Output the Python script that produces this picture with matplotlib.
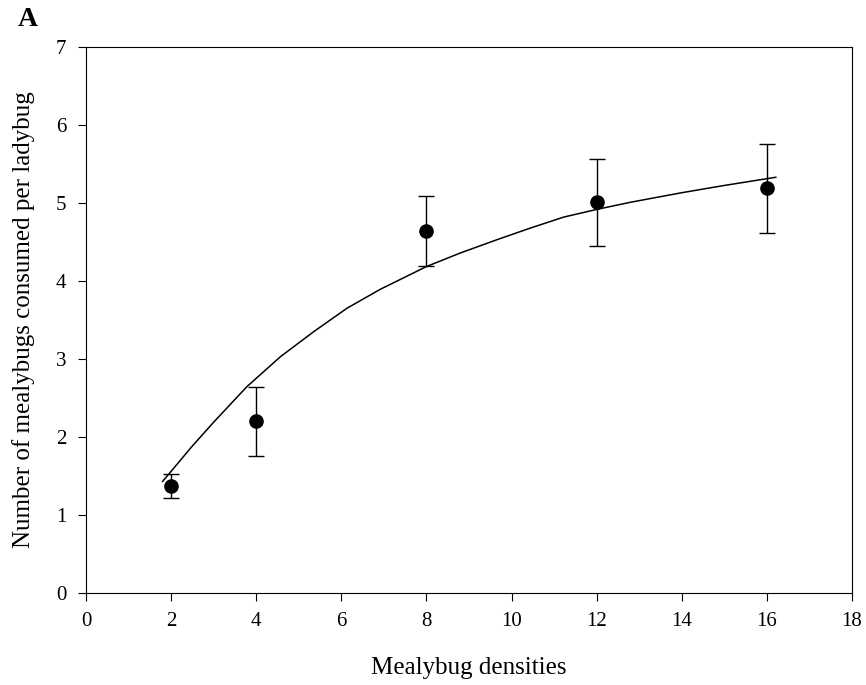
import matplotlib
matplotlib.use("Agg")
import matplotlib.pyplot as plt

# =========================
# 数据
# =========================

densities = [2, 4, 8, 12, 16]
consumed_mean = [1.37, 2.20, 4.64, 5.01, 5.19]
consumed_se = [0.15, 0.44, 0.45, 0.56, 0.57]

# 拟合曲线：从图上逐点读出
curve_x = [1.80, 2.50, 3.00, 3.78, 4.57, 5.35, 6.13, 6.92, 8.00, 8.80,
           9.66, 10.45, 11.23, 12.02, 12.80, 13.98, 15.00, 16.21]
curve_y = [1.43, 1.885, 2.19, 2.645, 3.03, 3.35, 3.65, 3.895, 4.185, 4.36,
           4.53, 4.68, 4.82, 4.92, 5.01, 5.13, 5.225, 5.33]

x_ticks = [0, 2, 4, 6, 8, 10, 12, 14, 16, 18]
y_ticks = [0, 1, 2, 3, 4, 5, 6, 7]

plt.rcParams["font.family"] = ["Liberation Serif", "DejaVu Serif"]

fig = plt.figure(figsize=(8.66, 6.85), dpi=100)
ax = fig.add_axes([86 / 866, 1 - 593 / 685, (852 - 86) / 866, (593 - 47) / 685])

ax.plot(curve_x, curve_y, color="black", lw=1.1)
ax.errorbar(densities, consumed_mean, yerr=consumed_se, fmt="o",
            color="black", ms=9.5, elinewidth=1.0, capsize=6, capthick=1.0)

ax.set_xlim(0, 18)
ax.set_ylim(0, 7)
ax.set_xticks(x_ticks)
ax.set_yticks(y_ticks)
ax.tick_params(direction="out", length=6, width=0.8, labelsize=15, pad=8,
               top=False, right=False)
for sp in ax.spines.values():
    sp.set_linewidth(0.8)

ax.set_xlabel("Mealybug densities", fontsize=18, va="center")
ax.xaxis.set_label_coords(0.5, (593 - 668) / 546)
ax.set_ylabel("Number of mealybugs consumed per ladybug", fontsize=18, va="center")
ax.yaxis.set_label_coords((24 - 86) / 766, 0.5)

fig.text(28 / 866, 1 - 20 / 685, "A", fontsize=20, fontweight="bold",
         va="center", ha="center")

fig.savefig("out.png", dpi=100)
